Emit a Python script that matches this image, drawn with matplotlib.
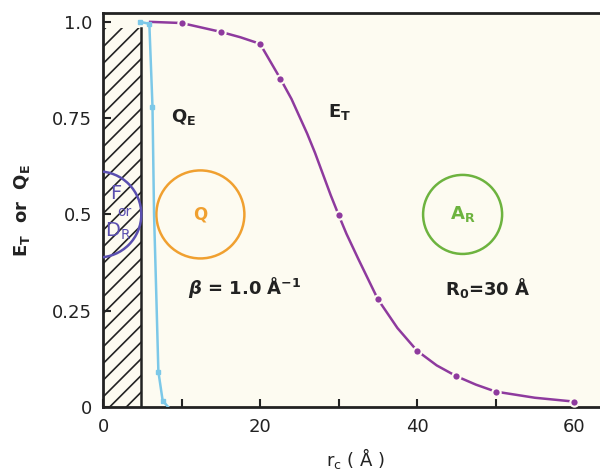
import matplotlib.pyplot as plt
from matplotlib.patches import Rectangle, Ellipse

# E_T curve (purple): line points and marker points
et_line_x = [6, 10, 15, 17.5, 20, 22.6, 24, 25, 26, 27, 28, 29, 30, 31, 32.5, 35, 37.5, 40, 42.5, 45, 47.5, 50, 55, 60]
et_line_y = [1.0, 0.997, 0.974, 0.96, 0.943, 0.852, 0.80, 0.755, 0.71, 0.66, 0.605, 0.55, 0.499, 0.45, 0.385, 0.28, 0.205, 0.146, 0.108, 0.08, 0.058, 0.04, 0.024, 0.014]
et_mark_x = [10, 15, 20, 22.6, 30, 35, 40, 45, 50, 60]
et_mark_y = [0.997, 0.974, 0.943, 0.852, 0.499, 0.28, 0.146, 0.08, 0.04, 0.014]

# Q_E curve (light blue)
qe_line_x = [4.7, 5.9, 6.3, 6.5, 6.8, 7.05, 7.6, 8.3]
qe_line_y = [1.0, 0.995, 0.78, 0.5, 0.28, 0.092, 0.016, 0.0]
qe_mark_x = [4.7, 5.9, 6.3, 7.05, 7.6]
qe_mark_y = [1.0, 0.995, 0.78, 0.092, 0.016]

xticks = [0, 10, 20, 30, 40, 50, 60]
xticklabels = ['0', '', '20', '', '40', '', '60']
yticks = [0, 0.25, 0.5, 0.75, 1.0]
yticklabels = ['0', '0.25', '0.5', '0.75', '1.0']

bg = '#fdfbf1'
purple = '#8e3a9e'
blue = '#7cc8e8'
ink = '#222222'

plt.rcParams['hatch.linewidth'] = 1.2

fig = plt.figure(figsize=(6, 4.71), dpi=100)
ax = fig.add_axes([0.1717, 0.1359, 0.8283, 0.8365])
ax.set_facecolor(bg)
ax.set_xlim(0, 63.3)
ax.set_ylim(0, 1.023)

# excluded volume (hatched)
ax.add_patch(Rectangle((0, 0), 4.9, 0.985, facecolor='none', edgecolor=ink,
                       hatch='//', linewidth=0, zorder=1))
ax.plot([4.9, 4.9], [0, 0.985], color=ink, lw=1.8, zorder=2)

# circles (kept round in pixels)
ppx = 7.85   # pixels per x unit
ppy = 385.0  # pixels per y unit
def circ(cx, cy, r, col):
    ax.add_patch(Ellipse((cx, cy), 2 * r / ppx, 2 * r / ppy, facecolor='none',
                         edgecolor=col, lw=1.8, zorder=3))

circ(-0.6, 0.5, 43, '#5a4fb0')
circ(12.4, 0.5, 44, '#f0a030')
circ(45.8, 0.5, 39.5, '#6db33f')

ax.plot(qe_line_x, qe_line_y, color=blue, lw=1.8, zorder=4)
ax.plot(qe_mark_x, qe_mark_y, 's', color=blue, ms=3.5, zorder=5)
ax.plot(et_line_x, et_line_y, color=purple, lw=1.8, zorder=4)
ax.plot(et_mark_x, et_mark_y, 'o', color=purple, ms=6, mec=bg, mew=1.5, zorder=5)

tf = dict(fontsize=13, color=ink, fontweight='bold')
ax.text(8.6, 0.752, r'Q$_\mathregular{E}$', va='center', ha='left', **tf)
ax.text(28.7, 0.766, r'E$_\mathregular{T}$', va='center', ha='left', **tf)
ax.text(10.8, 0.31, r'$\boldsymbol{\beta}$ = 1.0 Å$^{\mathregular{-1}}$', va='center', ha='left', **tf)
ax.text(43.6, 0.31, r'R$_\mathregular{0}$=30 Å', va='center', ha='left', **tf)
ax.text(12.4, 0.5, 'Q', color='#f0a030', fontsize=12, fontweight='bold', ha='center', va='center')
ax.text(45.8, 0.5, r'A$_\mathregular{R}$', color='#6db33f', fontsize=13, fontweight='bold', ha='center', va='center')
ax.text(1.6, 0.555, 'F', color='#5a4fb0', fontsize=14, ha='center', va='center')
ax.text(2.7, 0.505, 'or', color='#5a4fb0', fontsize=10, ha='center', va='center')
ax.text(1.9, 0.455, r'D$_\mathregular{R}$', color='#5a4fb0', fontsize=14, ha='center', va='center')

ax.set_xticks(xticks)
ax.set_xticklabels(xticklabels)
ax.set_yticks(yticks)
ax.set_yticklabels(yticklabels)
ax.tick_params(direction='in', length=6, width=1.5, labelsize=13, colors=ink, pad=8)
for s in ['left', 'bottom', 'top']:
    ax.spines[s].set_linewidth(2)
    ax.spines[s].set_color(ink)
ax.spines['right'].set_visible(False)

ax.set_xlabel(r'r$_\mathregular{c}$ ( Å )', fontsize=13, color=ink)
ax.xaxis.set_label_coords(0.507, -0.098)
ax.set_ylabel(r'E$_\mathregular{T}$  or  Q$_\mathregular{E}$', fontsize=13, color=ink,
              fontweight='bold', labelpad=14)

plt.savefig('out.png', dpi=100)
